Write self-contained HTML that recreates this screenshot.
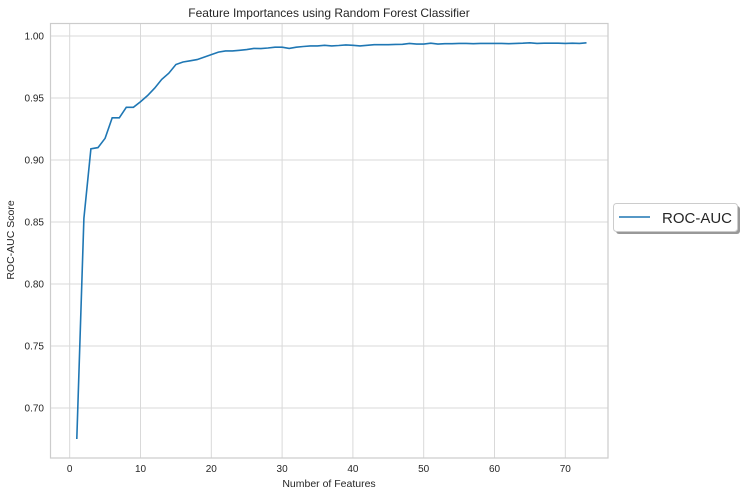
<!DOCTYPE html>
<html><head><meta charset="utf-8"><style>
body{margin:0;background:#fff;width:744px;height:496px;overflow:hidden;font-family:"Liberation Sans",sans-serif}
</style></head><body>
<svg width="744" height="496" xmlns="http://www.w3.org/2000/svg">
<g id="grid"></g>
<rect x="50.5" y="23.5" width="557.5" height="434.5" fill="none" stroke="#ccc" stroke-width="1.2"/>
<g id="ticks"></g>
<path id="line" fill="none" stroke="#1f77b4" stroke-width="1.6"/>
<text x="329" y="17" text-anchor="middle" font-size="12" fill="#262626">Feature Importances using Random Forest Classifier</text>
<text x="329" y="487" text-anchor="middle" font-size="10.5" fill="#262626">Number of Features</text>
<text transform="translate(14,240) rotate(-90)" text-anchor="middle" font-size="10.5" fill="#262626">ROC-AUC Score</text>
<g>
<rect x="616" y="206" width="124" height="28" rx="3" fill="#999"/>
<rect x="613.5" y="203.5" width="124" height="28" rx="3" fill="#fff" stroke="#ccc"/>
<line x1="619" y1="217" x2="650" y2="217" stroke="#1f77b4" stroke-width="1.6"/>
<text x="662" y="223" font-size="15" fill="#262626">ROC-AUC</text>
</g>
</svg>
<script>
const xTicks=[0,10,20,30,40,50,60,70];
const yTicks=[0.70,0.75,0.80,0.85,0.90,0.95,1.00];
const yLabels=["0.70","0.75","0.80","0.85","0.90","0.95","1.00"];
const features=[];for(let i=1;i<=73;i++)features.push(i);
const scores=[0.675,0.853,0.909,0.910,0.9175,0.934,0.934,0.9425,0.9425,0.947,0.952,0.958,0.965,0.970,0.977,0.979,0.980,0.981,0.983,0.985,0.987,0.988,0.988,0.9885,0.989,0.990,0.9898,0.9903,0.991,0.991,0.990,0.991,0.9915,0.992,0.992,0.9925,0.992,0.9923,0.9928,0.9925,0.992,0.9925,0.993,0.993,0.993,0.9932,0.9933,0.994,0.9935,0.9935,0.9942,0.9935,0.9938,0.9938,0.994,0.994,0.9938,0.994,0.994,0.994,0.994,0.9938,0.994,0.9942,0.9945,0.994,0.9942,0.9942,0.9942,0.994,0.9942,0.994,0.9945];
const X=v=>69.7+v*7.08, Y=v=>36+(1-v)*1240;
const ns="http://www.w3.org/2000/svg";
const grid=document.getElementById('grid'),ticks=document.getElementById('ticks');
xTicks.forEach(t=>{const l=document.createElementNS(ns,'line');


l.setAttribute('x1',X(t));l.setAttribute('x2',X(t));l.setAttribute('y1',23.5);l.setAttribute('y2',458);l.setAttribute('stroke','#d9d9d9');grid.appendChild(l);
const tx=document.createElementNS(ns,'text');


tx.setAttribute('x',X(t));tx.setAttribute('y',472);tx.setAttribute('text-anchor','middle');tx.setAttribute('font-size','10');tx.setAttribute('fill','#262626');tx.textContent=t;ticks.appendChild(tx);});
yTicks.forEach((t,i)=>{const l=document.createElementNS(ns,'line');


l.setAttribute('x1',50.5);l.setAttribute('x2',608);l.setAttribute('y1',Y(t));l.setAttribute('y2',Y(t));l.setAttribute('stroke','#d9d9d9');grid.appendChild(l);
const tx=document.createElementNS(ns,'text');


tx.setAttribute('x',44);tx.setAttribute('y',Y(t)+3.5);tx.setAttribute('text-anchor','end');tx.setAttribute('font-size','10');tx.setAttribute('fill','#262626');tx.textContent=yLabels[i];ticks.appendChild(tx);});
document.getElementById('line').setAttribute('d',features.map((f,i)=>(i?'L':'M')+X(f).toFixed(1)+','+Y(scores[i]).toFixed(1)).join(''));
</script>
</body></html>
